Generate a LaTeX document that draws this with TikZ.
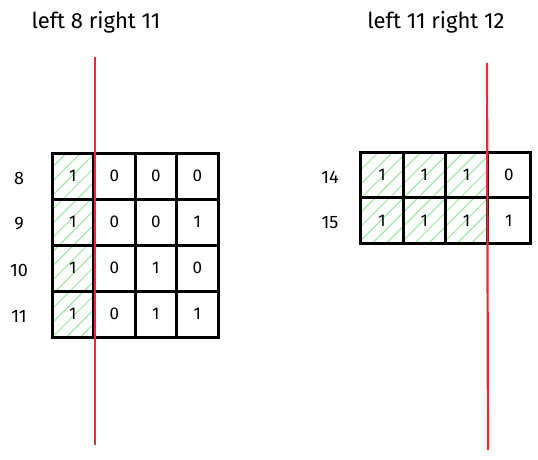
\documentclass[tikz,border=0pt]{standalone}
\usepackage{fontspec}
\setmainfont{Fira Sans}
\usetikzlibrary{patterns.meta}
\definecolor{redline}{RGB}{224,49,49}
\definecolor{hatch}{RGB}{150,230,160}
\tikzset{
  cellbox/.style={draw=black, line width=3pt, minimum width=#1, inner sep=0pt, font=\fontsize{17}{19}\selectfont},
  hatched/.style={pattern={Lines[angle=45,distance=10pt,line width=1pt]}, pattern color=hatch},
  rowlabel/.style={font=\fontsize{18}{20}\selectfont, anchor=center},
  title/.style={font=\fontsize{22}{24}\selectfont, anchor=center},
  cutline/.style={draw=redline, line width=2.2pt}
}
\begin{document}
\begin{tikzpicture}[x=1pt,y=-1pt]
\useasboundingbox (0,0) rectangle (538,460);
\node[title] (t1) at (96,22) {left 8 right 11};
\node[title] (t2) at (436,22) {left 11 right 12};
% left grid
\foreach \lab/\a/\b/\c/\d [count=\j from 0] in {8/1/0/0/0, 9/1/0/0/1, 10/1/0/1/0, 11/1/0/1/1}{
  \node[rowlabel] (L\lab) at (19,178+46*\j) {\lab};
  \node[cellbox=41.5pt, minimum height=46pt, hatched] (a\j0) at (72.75,176+46*\j) {\a};
  \node[cellbox=41.5pt, minimum height=46pt] (a\j1) at (114.25,176+46*\j) {\b};
  \node[cellbox=41.5pt, minimum height=46pt] (a\j2) at (155.75,176+46*\j) {\c};
  \node[cellbox=41.5pt, minimum height=46pt] (a\j3) at (197.25,176+46*\j) {\d};
}
% right grid
\foreach \lab/\d [count=\j from 0] in {14/0, 15/1}{
  \node[rowlabel] (R\lab) at (330,177+45.5*\j) {\lab};
  \node[cellbox=42.25pt, minimum height=45.5pt, hatched] (b\j0) at (382.1,175+45.5*\j) {1};
  \node[cellbox=42.25pt, minimum height=45.5pt, hatched] (b\j1) at (424.4,175+45.5*\j) {1};
  \node[cellbox=42.25pt, minimum height=45.5pt, hatched] (b\j2) at (466.6,175+45.5*\j) {1};
  \node[cellbox=42.25pt, minimum height=45.5pt] (b\j3) at (508.9,175+45.5*\j) {\d};
}
\coordinate (l1top) at (95,57);
\coordinate (l1bot) at (95,445);
\coordinate (l2top) at (487,63);
\coordinate (l2bot) at (488,450);
\draw[cutline] (l1top) -- (l1bot);
\draw[cutline] (l2top) -- (l2bot);
\end{tikzpicture}
\end{document}
